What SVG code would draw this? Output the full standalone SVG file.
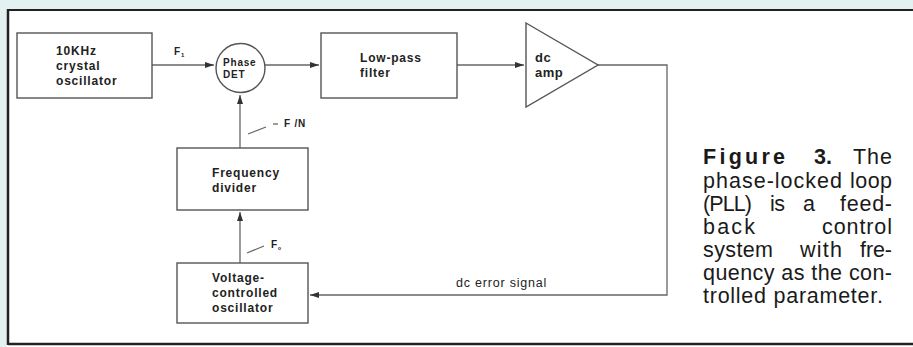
<svg xmlns="http://www.w3.org/2000/svg" width="913" height="347" viewBox="0 0 913 347">
<style>
.box{fill:none;stroke:#555;stroke-width:1.4}
.ln{fill:none;stroke:#666;stroke-width:1.3}
.lb{font-family:"Liberation Sans",Arial,sans-serif;font-weight:bold;font-size:12px;letter-spacing:0.8px;fill:#222}
.sm{font-size:10px}
.cap{font-family:"Liberation Sans",Arial,sans-serif;font-size:21.5px;fill:#1a1a1a}
.frame{stroke:#222;fill:none}
</style>
<defs>
<marker id="ah" markerUnits="userSpaceOnUse" markerWidth="9" markerHeight="6" refX="9" refY="3" orient="auto">
<path d="M0,0 L9,3 L0,6 z" fill="#333"/>
</marker>
</defs>
<rect x="0" y="0" width="913" height="347" fill="#fff"/>
<rect x="0" y="0" width="913" height="9" fill="#e3f2f1"/>
<rect x="0" y="0" width="7" height="347" fill="#e3f2f1"/>
<g id="frame">
<line class="frame" x1="8" y1="10" x2="913" y2="10" stroke-width="2"/>
<line class="frame" x1="8" y1="9" x2="8" y2="345" stroke-width="2.5"/>
<line class="frame" x1="8" y1="344" x2="913" y2="344" stroke-width="2.5"/>
</g>
<g id="connectors">
<path class="ln" d="M152,65 H214" marker-end="url(#ah)"/>
<path class="ln" d="M265,65 H319" marker-end="url(#ah)"/>
<path class="ln" d="M457,65 H524" marker-end="url(#ah)"/>
<path class="ln" d="M598,65 H667 V295 H310" marker-end="url(#ah)"/>
<path class="ln" d="M240,148 V95" marker-end="url(#ah)"/>
<path class="ln" d="M240,263 V212" marker-end="url(#ah)"/>
<line class="ln" x1="248" y1="134" x2="266" y2="127"/>
<line class="ln" x1="273" y1="124" x2="278" y2="124"/>
<line class="ln" x1="247" y1="253" x2="264" y2="246"/>
</g>
<g id="crystal">
<rect class="box" x="17" y="33" width="135" height="65"/>
<text class="lb" x="56" y="55">10KHz</text>
<text class="lb" x="56" y="70">crystal</text>
<text class="lb" x="56" y="85">oscillator</text>
</g>
<g id="phase">
<circle class="box" cx="240.5" cy="68" r="24.5"/>
<text class="lb sm" x="223" y="66">Phase</text>
<text class="lb sm" x="223" y="78">DET</text>
</g>
<g id="lpf">
<rect class="box" x="321" y="33" width="136" height="65"/>
<text class="lb" x="360" y="62">Low-pass</text>
<text class="lb" x="360" y="77">filter</text>
</g>
<g id="amp">
<polygon class="box" points="526,23 598,65 526,107"/>
<text class="lb" x="535" y="62" style="font-size:13px;letter-spacing:0.5px">dc</text>
<text class="lb" x="535" y="77" style="font-size:13px;letter-spacing:0.5px">amp</text>
</g>
<g id="divider">
<rect class="box" x="177" y="148" width="131" height="62"/>
<text class="lb" x="212" y="177">Frequency</text>
<text class="lb" x="212" y="192">divider</text>
</g>
<g id="vco">
<rect class="box" x="177" y="263" width="131" height="60"/>
<text class="lb" x="212" y="282">Voltage-</text>
<text class="lb" x="212" y="297">controlled</text>
<text class="lb" x="212" y="312">oscillator</text>
</g>
<g id="labels">
<text class="lb sm" x="174" y="55">F<tspan font-size="6" dy="2">1</tspan></text>
<text class="lb sm" x="284" y="127">F /N</text>
<text class="lb sm" x="271" y="248">F<tspan font-size="5" dy="2">o</tspan></text>
<text class="lb" x="456" y="287" style="font-weight:normal;font-size:12.5px">dc error signal</text>
</g>
<g id="caption">
<text class="cap" x="703" y="164" font-weight="bold" textLength="82" lengthAdjust="spacing">Figure</text>
<text class="cap" x="814" y="164" font-weight="bold">3.</text>
<text class="cap" x="853" y="164" textLength="39" lengthAdjust="spacing">The</text>
<text class="cap" x="703" y="187.5" textLength="139" lengthAdjust="spacing">phase-locked</text>
<text class="cap" x="850" y="187.5" textLength="42" lengthAdjust="spacing">loop</text>
<text class="cap" x="703" y="211" textLength="49" lengthAdjust="spacing">(PLL)</text>
<text class="cap" x="770" y="211" textLength="15" lengthAdjust="spacing">is</text>
<text class="cap" x="803" y="211" textLength="12" lengthAdjust="spacing">a</text>
<text class="cap" x="840" y="211" textLength="52" lengthAdjust="spacing">feed-</text>
<text class="cap" x="703" y="234" textLength="52" lengthAdjust="spacing">back</text>
<text class="cap" x="822" y="234" textLength="70" lengthAdjust="spacing">control</text>
<text class="cap" x="703" y="257" textLength="70" lengthAdjust="spacing">system</text>
<text class="cap" x="800" y="257" textLength="42" lengthAdjust="spacing">with</text>
<text class="cap" x="860" y="257" textLength="32" lengthAdjust="spacing">fre-</text>
<text class="cap" x="703" y="280" textLength="189" lengthAdjust="spacing">quency as the con-</text>
<text class="cap" x="703" y="303" textLength="180" lengthAdjust="spacing">trolled parameter.</text>
</g>
</svg>
